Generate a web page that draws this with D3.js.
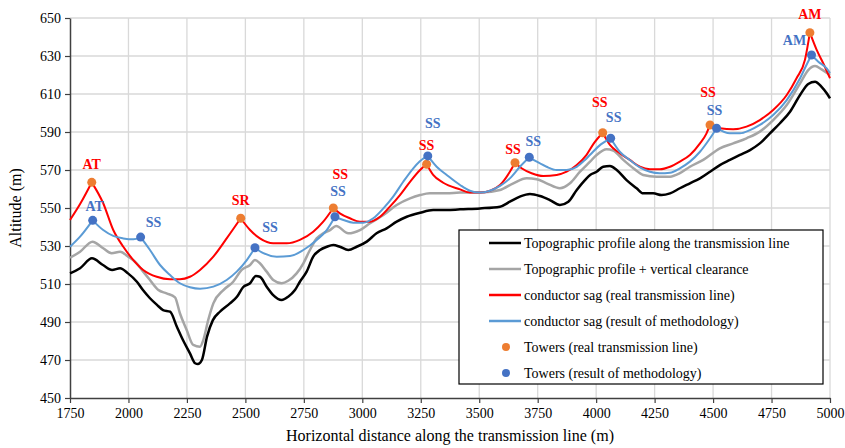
<!DOCTYPE html>
<html>
<head>
<meta charset="utf-8">
<script src="https://cdn.jsdelivr.net/npm/d3@7"></script>
<style>
  body { margin: 0; background: #fff; }
  svg text { font-family: "Liberation Serif", "Times New Roman", serif; }
</style>
</head>
<body>
<svg id="chart" width="845" height="448"></svg>
<script>
// axis ticks
var xTicks = [1750, 2000, 2250, 2500, 2750, 3000, 3250, 3500, 3750, 4000, 4250, 4500, 4750, 5000];
var yTicks = [450, 470, 490, 510, 530, 550, 570, 590, 610, 630, 650];

// [distance (m), altitude (m)]
var topoProfile = [[1750,515.6],[1793,518.3],[1844,523.5],[1891,520],[1930,517.4],[1964,518.3],[1998,515.6],
  [2036,511.2],[2062,506.8],[2092,502.5],[2122,499],[2148,496.3],[2178,495.4],[2207,487.5],[2233,480.5],
  [2263,473.5],[2285,468.3],[2297,467.9],[2314,470],[2336,482.3],[2361,491],[2391,495.4],[2434,499.8],
  [2464,503.3],[2490,508.3],[2520,510.4],[2545,514.2],[2562,513.8],[2591,508.6],[2619,504.2],[2655,501.6],
  [2683,503.3],[2712,506.8],[2733,511.2],[2762,516.5],[2790,524.4],[2819,527.9],[2848,529.6],[2876,530.5],
  [2904,529.6],[2940,527.9],[2976,529.6],[3019,532.3],[3061,536.7],[3104,539.3],[3147,542.8],[3190,545.4],
  [3247,547.5],[3303,548.9],[3361,548.9],[3418,549.3],[3503,549.8],[3589,550.7],[3631,553.3],[3674,556],
  [3717,557.4],[3760,556.3],[3802,554.2],[3845,551.6],[3881,553.3],[3917,559.5],[3952,564.7],[3974,567.4],
  [4002,569.1],[4030,571.7],[4059,572.1],[4088,570],[4130,564.7],[4173,560.4],[4201,557.7],[4244,557.7],
  [4280,556.8],[4316,557.7],[4358,560.4],[4401,563],[4444,565.6],[4487,569.1],[4529,572.6],[4572,575.3],
  [4615,577.9],[4658,580.5],[4700,584],[4743,589.3],[4786,594.6],[4829,600.7],[4872,609.5],[4907,615.3],
  [4936,616.5],[4964,613.8],[4986,610.4],[5000,607.7]];

var clearanceProfile = [[1750,523.8],[1793,527],[1846,532.3],[1892,528.8],[1928,526.2],[1964,527],[1999,524.4],
  [2035,520.9],[2063,516.5],[2092,512.1],[2128,506.8],[2163,505.1],[2199,503],[2220,494.6],[2249,485.8],
  [2277,477.9],[2306,477],[2320,480.5],[2341,491],[2363,499.8],[2406,506.8],[2448,511.2],[2484,517.4],
  [2520,520],[2541,522.6],[2562,520.9],[2591,516.5],[2619,512.1],[2655,510.4],[2683,511.7],[2719,515.6],
  [2748,520.9],[2776,527.9],[2805,534],[2833,536.7],[2862,538.4],[2888,540.5],[2940,536.7],[2990,538.4],
  [3033,542],[3090,546.3],[3147,551.6],[3204,555.1],[3247,556.8],[3289,557.7],[3361,557.7],[3418,558.1],
  [3503,558.1],[3589,559.5],[3646,563],[3703,565.6],[3746,565.1],[3788,563],[3845,560.4],[3888,563],
  [3931,569.1],[3974,574.4],[4002,577.9],[4045,580.9],[4073,580.2],[4116,575.3],[4159,570.9],[4201,567.4],
  [4259,566.5],[4316,566.5],[4358,568.3],[4401,571.7],[4458,575.3],[4529,581.4],[4586,584],[4643,586.7],
  [4700,590.2],[4757,596.3],[4815,604.2],[4872,615.6],[4907,622.6],[4936,624.7],[4964,623],[5000,620]];

var sagReal = [[1750,543.7],[1795,552.5],[1843,563.5],
  [1892,552.5],[1935,538.4],[1978,529.6],[2021,522.6],[2063,517.4],[2121,513.8],[2178,512.5],[2220,512.5],
  [2263,513.8],[2306,517.4],[2363,524.4],[2420,534],[2480,544.6],
  [2520,538.4],[2562,534],[2619,531.4],[2677,531.4],[2733,533.2],[2790,537.5],[2833,542.8],[2876,550],
  [2904,547.2],[2947,544.6],[2990,542.8],[3033,542.8],[3076,545.4],[3118,550.7],[3161,556.8],[3204,563.8],
  [3247,570],[3275,573],
  [3303,567.4],[3346,563.3],[3418,559.8],[3460,558.1],[3503,558.1],[3546,559.1],[3589,562.1],[3631,569.1],
  [3653,573.8],
  [3681,570.9],[3724,568.3],[3774,566.8],[3831,567.4],[3874,569.1],[3917,572.6],[3959,578],[3990,584],
  [4028,589.6],
  [4059,583.2],[4101,578.8],[4144,575.3],[4187,571.7],[4230,570.4],[4272,570.4],[4316,571.7],[4358,574.4],
  [4401,577.9],[4444,584],[4472,589.3],[4487,593.7],
  [4529,592],[4586,591.4],[4643,592.8],[4700,596.3],[4757,601.6],[4815,609.5],[4857,618.3],[4893,628],
  [4914,642.3],
  [4943,633.2],[4971,626.2],[5000,618.3]];

var sagMethod = [[1750,529.6],[1793,534.9],[1847,543.5],
  [1892,538.4],[1935,535.3],[1978,534],[2021,533.5],[2052,534.7],
  [2092,527.9],[2135,520],[2178,514.7],[2220,510.4],[2263,508.3],[2306,507.5],[2363,508.6],[2420,512.1],
  [2463,516.5],[2506,522.6],[2541,529.1],
  [2577,526.2],[2634,524.4],[2691,524.7],[2748,527.9],[2805,533.2],[2848,538.4],[2883,545.4],
  [2919,543.7],[2961,542.3],[3004,542.3],[3047,544.6],[3090,549.8],[3132,556],[3175,563.8],[3218,570.9],
  [3245,574.5],[3280,577.4],
  [3318,571.7],[3361,567.4],[3418,562.1],[3460,559.1],[3503,558.1],[3546,559.1],[3589,561.6],[3631,565.6],
  [3674,571.7],[3714,576.7],
  [3746,574.4],[3788,571.7],[3831,570],[3874,570],[3917,571.7],[3952,575.3],[3974,578],[4020,583.5],
  [4062,586.7],
  [4101,579.6],[4144,575.3],[4187,571.4],[4230,569.1],[4272,568.3],[4316,568.6],[4358,570.9],[4401,574.4],
  [4444,579.6],[4487,586.7],[4515,592],
  [4572,589.3],[4615,589.3],[4658,591],[4700,593.7],[4757,598.9],[4815,606.8],[4872,618.3],[4903,626.2],
  [4921,630.5],
  [4950,627],[4986,623.5],[5000,621]];

var towersReal = [[1843,563.5],[2480,544.6],[2876,550],[3275,573],[3653,573.8],[4028,589.6],[4487,593.7],[4914,642.3]];
var towersRealLabels = ["AT","SR","SS","SS","SS","SS","SS","AM"];
var towersMethod = [[1847,543.5],[2052,534.7],[2541,529.1],[2883,545.4],[3280,577.4],[3714,576.7],[4062,586.7],[4515,592],[4921,630.5]];
var towersMethodLabels = ["AT","SS","SS","SS","SS","SS","SS","SS","AM"];

var legendNames = ["Topographic profile along the transmission line",
  "Topographic profile + vertical clearance",
  "conductor sag (real transmission line)",
  "conductor sag (result of methodology)",
  "Towers (real transmission line)",
  "Towers (result of methodology)"];

// label nudges in pixels (dx, dy from the tower dot)
var realLabelOffsets = [[0,-18],[0,-18],[7,-34],[0,-19],[-2,-13],[-3,-30],[-2,-32],[0,-18]];
var methodLabelOffsets = [[2,-14],[13,-15],[15,-20],[3,-25],[5,-32],[4,-16],[3,-21],[-2,-18],[-17,-15]];

var FONT = "'Liberation Serif', 'Times New Roman', serif";
var svg = d3.select("#chart").attr("font-family", FONT);
var margin = {left: 70, right: 15, top: 18, bottom: 50};
var W = 845, H = 448;

var x = d3.scaleLinear().domain([1750, 5000]).range([margin.left, W - margin.right]);
var y = d3.scaleLinear().domain([450, 650]).range([H - margin.bottom, margin.top]);

// grid
svg.append("g").selectAll("line").data(xTicks.slice(1)).enter().append("line")
  .attr("x1", function(d) { return x(d); }).attr("x2", function(d) { return x(d); })
  .attr("y1", y(450)).attr("y2", y(650))
  .attr("stroke", "#d9d9d9").attr("stroke-width", 1.3);
svg.append("g").selectAll("line").data(yTicks.slice(1)).enter().append("line")
  .attr("x1", x(1750)).attr("x2", x(5000))
  .attr("y1", function(d) { return y(d); }).attr("y2", function(d) { return y(d); })
  .attr("stroke", "#d9d9d9").attr("stroke-width", 1.3);

// axes
var yAxis = svg.append("g").attr("transform", "translate(" + x(1750) + ",0)")
  .call(d3.axisLeft(y).tickValues(yTicks).tickFormat(d3.format("d"))
    .tickSize(5).tickSizeOuter(0).tickPadding(4));
var xAxis = svg.append("g").attr("transform", "translate(0," + y(450) + ")")
  .call(d3.axisBottom(x).tickValues(xTicks).tickFormat(d3.format("d"))
    .tickSize(5).tickSizeOuter(0).tickPadding(5));
[yAxis, xAxis].forEach(function(a) {
  a.attr("font-family", FONT).attr("font-size", 14);
  a.select(".domain").attr("stroke", "#404040").attr("stroke-width", 1.5);
  a.selectAll(".tick line").attr("stroke", "#404040").attr("stroke-width", 1.2);
  a.selectAll("text").attr("fill", "#000");
});

svg.append("text").attr("x", (x(1750) + x(5000)) / 2).attr("y", 441)
  .attr("text-anchor", "middle").attr("font-size", 16).text("Horizontal distance along the transmission line (m)");
svg.append("text").attr("transform", "translate(21," + (y(550)) + ") rotate(-90)")
  .attr("text-anchor", "middle").attr("font-size", 16).text("Altitude (m)");

var line = d3.line().x(function(d) { return x(d[0]); }).y(function(d) { return y(d[1]); })
  .curve(d3.curveMonotoneX);

// conductor curves are split at each tower so the cusp stays sharp
function spans(points, towers) {
  var cuts = [1750].concat(towers.map(function(t) { return t[0]; })).concat([5000]);
  var out = [];
  for (var i = 0; i < cuts.length - 1; i++) {
    out.push(points.filter(function(p) { return p[0] >= cuts[i] && p[0] <= cuts[i + 1]; }));
  }
  return out;
}

svg.append("path").datum(clearanceProfile).attr("d", line)
  .attr("fill", "none").attr("stroke", "#a5a5a5").attr("stroke-width", 2.5);
svg.append("path").datum(topoProfile).attr("d", line)
  .attr("fill", "none").attr("stroke", "#000").attr("stroke-width", 2.5);

svg.append("g").selectAll("path").data(spans(sagReal, towersReal)).enter().append("path")
  .attr("d", line).attr("fill", "none").attr("stroke", "#ff0000").attr("stroke-width", 2);
svg.append("g").selectAll("path").data(spans(sagMethod, towersMethod)).enter().append("path")
  .attr("d", line).attr("fill", "none").attr("stroke", "#5b9bd5").attr("stroke-width", 2);

svg.append("g").selectAll("circle").data(towersReal).enter().append("circle")
  .attr("cx", function(d) { return x(d[0]); }).attr("cy", function(d) { return y(d[1]); })
  .attr("r", 4.5).attr("fill", "#ed7d31");
svg.append("g").selectAll("circle").data(towersMethod).enter().append("circle")
  .attr("cx", function(d) { return x(d[0]); }).attr("cy", function(d) { return y(d[1]); })
  .attr("r", 4.5).attr("fill", "#4472c4");

svg.append("g").selectAll("text").data(towersReal).enter().append("text")
  .attr("x", function(d, i) { return x(d[0]) + realLabelOffsets[i][0]; })
  .attr("y", function(d, i) { return y(d[1]) + realLabelOffsets[i][1]; })
  .attr("text-anchor", "middle").attr("dominant-baseline", "central")
  .attr("font-size", 14).attr("font-weight", "bold").attr("fill", "#ff0000")
  .text(function(d, i) { return towersRealLabels[i]; });
svg.append("g").selectAll("text").data(towersMethod).enter().append("text")
  .attr("x", function(d, i) { return x(d[0]) + methodLabelOffsets[i][0]; })
  .attr("y", function(d, i) { return y(d[1]) + methodLabelOffsets[i][1]; })
  .attr("text-anchor", "middle").attr("dominant-baseline", "central")
  .attr("font-size", 14).attr("font-weight", "bold").attr("fill", "#4472c4")
  .text(function(d, i) { return towersMethodLabels[i]; });

// legend
var legend = svg.append("g").attr("transform", "translate(459,230)");
legend.append("rect").attr("width", 364).attr("height", 154)
  .attr("fill", "#fff").attr("stroke", "#000").attr("stroke-width", 1.2);
var legendStyle = [
  {type: "line", color: "#000"}, {type: "line", color: "#a5a5a5"},
  {type: "line", color: "#ff0000"}, {type: "line", color: "#5b9bd5"},
  {type: "dot", color: "#ed7d31"}, {type: "dot", color: "#4472c4"}];
var rows = legend.selectAll("g.row").data(legendNames).enter().append("g")
  .attr("class", "row")
  .attr("transform", function(d, i) { return "translate(0," + (13 + i * 26) + ")"; });
rows.each(function(d, i) {
  var g = d3.select(this);
  if (legendStyle[i].type === "line") {
    g.append("line").attr("x1", 30).attr("x2", 62).attr("y1", 0).attr("y2", 0)
      .attr("stroke", legendStyle[i].color).attr("stroke-width", 2.5);
  } else {
    g.append("circle").attr("cx", 47).attr("cy", 0).attr("r", 4).attr("fill", legendStyle[i].color);
  }
  g.append("text").attr("x", 65).attr("y", 0).attr("dominant-baseline", "central")
    .attr("font-size", 14).text(d);
});
</script>
</body>
</html>
